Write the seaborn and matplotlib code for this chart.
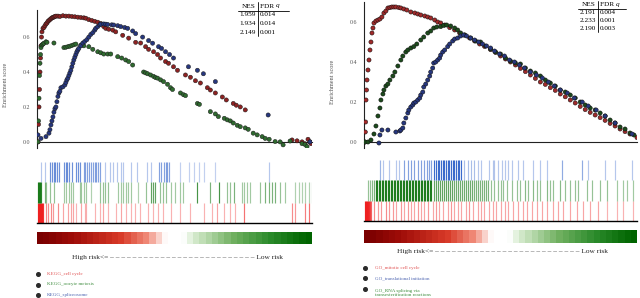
import numpy as np
import pandas as pd
import matplotlib
matplotlib.use("Agg")
import matplotlib.pyplot as plt
import seaborn as sns
from matplotlib.colors import LinearSegmentedColormap, to_rgba
from matplotlib.lines import Line2D

sns.set_style("white")
plt.rcParams['font.family'] = ['Liberation Serif', 'DejaVu Serif']

# ---------------- data: left panel (KEGG) ----------------
left_sets = ["KEGG_cell cycle", "KEGG_oocyte meiosis", "KEGG_spliceosome"]
left_nes = ["1.959", "1.934", "2.149"]
left_fdr = ["0.014", "0.014", "0.001"]

kegg_cc_rank = [0, 0.5, 1, 1.5, 2, 2.5, 3, 3.5, 4, 5, 6, 7, 8, 9, 10, 11, 12, 13, 14, 15, 16, 17, 18, 20, 22, 25, 28, 31, 34, 37,
                40, 43, 46, 48, 51, 54, 57, 60, 63, 66, 68, 71, 75, 78, 85, 91, 98, 103, 108, 111, 116, 120, 123, 128, 131,
                136, 140, 148, 153, 158, 163, 170, 173, 178, 185, 189, 196, 199, 203, 208, 255, 260, 265, 268, 271, 273, 274]
kegg_cc_es = [0.0, 0.1, 0.2, 0.3, 0.4, 0.48, 0.55, 0.6, 0.63, 0.65, 0.655, 0.665, 0.675, 0.68, 0.69, 0.695, 0.70, 0.705, 0.71,
              0.712, 0.715, 0.718, 0.72, 0.72, 0.718, 0.722, 0.72, 0.72, 0.718, 0.716, 0.714, 0.712, 0.71, 0.708, 0.70, 0.695,
              0.69, 0.685, 0.678, 0.66, 0.65, 0.645, 0.64, 0.63, 0.61, 0.594, 0.57, 0.566, 0.545, 0.53, 0.516, 0.50, 0.48,
              0.46, 0.45, 0.43, 0.41, 0.383, 0.37, 0.35, 0.337, 0.31, 0.297, 0.28, 0.257, 0.24, 0.22, 0.21, 0.20, 0.183,
              0.011, 0.006, 0.0, -0.011, 0.015, 0.0, -0.01]

kegg_om_rank = [0, 0.5, 1, 1.5, 2, 2.5, 3, 4, 5, 6, 8, 9, 16, 26, 28, 30, 32, 34, 36, 38, 43, 46, 51, 55, 60, 63, 66, 70, 73,
                80, 84, 88, 91, 95, 106, 108, 110, 113, 116, 118, 120, 123, 126, 130, 133, 135, 143, 146, 148, 160, 162,
                173, 178, 181, 187, 190, 193, 196, 200, 203, 208, 211, 216, 220, 225, 228, 232, 238, 243, 246, 253, 265, 268, 270]
kegg_om_es = [0.0, 0.12, 0.25, 0.38, 0.45, 0.5, 0.54, 0.555, 0.56, 0.565, 0.573, 0.57, 0.566, 0.54, 0.542, 0.545, 0.548,
              0.552, 0.556, 0.56, 0.554, 0.55, 0.545, 0.53, 0.516, 0.51, 0.503, 0.503, 0.503, 0.488, 0.48, 0.469, 0.46,
              0.44, 0.40, 0.395, 0.39, 0.383, 0.375, 0.368, 0.365, 0.355, 0.345, 0.33, 0.31, 0.30, 0.28, 0.27, 0.265,
              0.22, 0.215, 0.173, 0.16, 0.145, 0.135, 0.126, 0.12, 0.108, 0.095, 0.087, 0.08, 0.072, 0.05, 0.04, 0.03,
              0.02, 0.015, 0.002, 0.0, -0.017, 0.005, -0.01, -0.015, -0.027]

kegg_sp_rank = [0, 3, 8, 11, 12, 13, 14, 15, 16, 17, 18, 19, 20, 21, 22, 23, 25, 27, 28, 29, 30, 31, 32, 33, 34, 35, 36, 37,
                38, 39, 40, 41, 43, 45, 47, 49, 51, 53, 55, 57, 58, 60, 62, 63, 66, 68, 70, 74, 76, 80, 83, 87, 90, 95, 98,
                105, 111, 115, 121, 124, 128, 132, 136, 151, 160, 166, 178, 231, 273]
kegg_sp_es = [0.04, 0.02, 0.03, 0.05, 0.07, 0.097, 0.12, 0.143, 0.17, 0.19, 0.20, 0.23, 0.26, 0.28, 0.29, 0.31, 0.315, 0.326,
              0.34, 0.355, 0.365, 0.38, 0.395, 0.41, 0.43, 0.45, 0.469, 0.485, 0.50, 0.515, 0.526, 0.535, 0.55, 0.566,
              0.575, 0.585, 0.60, 0.615, 0.625, 0.64, 0.65, 0.66, 0.67, 0.674, 0.675, 0.674, 0.672, 0.67, 0.669, 0.665,
              0.66, 0.655, 0.65, 0.635, 0.62, 0.60, 0.58, 0.565, 0.545, 0.535, 0.516, 0.50, 0.48, 0.43, 0.41, 0.39, 0.345,
              0.154, 0.0]

# hit positions (rank) and intensity per gene set, left
left_blue_hits = [3, 7, 12, 14, 16, 17, 19, 21, 26, 28, 29, 31, 34, 38, 40, 42, 46, 47, 49, 51, 53, 55, 57, 58, 60, 62, 67,
                  72, 75, 79, 83, 85, 93, 99, 109, 113, 121, 123, 126, 128, 129, 131, 143, 152, 157, 162, 167, 178, 232]
left_blue_int = [0.3, 0.3, 0.6, 0.6, 0.6, 0.6, 0.6, 0.6, 0.6, 0.6, 0.6, 0.6, 0.6, 0.6, 0.6, 0.6, 0.5, 0.5, 0.5, 0.5, 0.5,
                 0.5, 0.5, 0.5, 0.5, 0.5, 0.3, 0.3, 0.3, 0.3, 0.3, 0.3, 0.3, 0.3, 0.3, 0.3, 0.5, 0.5, 0.5, 0.5, 0.5, 0.5,
                 0.25, 0.25, 0.25, 0.25, 0.25, 0.25, 0.3]
left_green_hits = [0, 1, 2, 3, 7, 8, 12, 16, 26, 28, 31, 33, 35, 42, 43, 46, 48, 53, 62, 65, 67, 70, 80, 83, 85, 88, 90, 93,
                   100, 108, 113, 115, 117, 122, 125, 128, 133, 137, 143, 146, 160, 173, 182, 190, 193, 197, 205, 207, 210,
                   213, 223, 228, 232, 235, 238, 243, 248, 258, 262, 265, 268, 272, 275]
left_green_int = [0.95, 0.95, 0.95, 0.8, 0.5, 0.4, 0.4, 0.4, 0.35, 0.35, 0.35, 0.35, 0.35, 0.35, 0.35, 0.35, 0.35, 0.3, 0.4,
                  0.4, 0.4, 0.4, 0.35, 0.35, 0.35, 0.35, 0.35, 0.35, 0.3, 0.4, 0.6, 0.6, 0.6, 0.4, 0.4, 0.4, 0.35, 0.35, 0.35,
                  0.35, 0.7, 0.5, 0.7, 0.4, 0.4, 0.5, 0.35, 0.35, 0.35, 0.35, 0.4, 0.5, 0.5, 0.5, 0.5, 0.4, 0.35, 0.3, 0.3,
                  0.3, 0.3, 0.3, 0.3]
left_red_hits = [0, 1, 2, 3, 4, 5, 8, 10, 13, 15, 20, 25, 30, 33, 35, 38, 43, 47, 48, 57, 62, 65, 70, 78, 83, 88, 93, 97, 102,
                 110, 115, 120, 125, 133, 143, 153, 167, 175, 180, 187, 193, 198, 207, 255, 258, 268, 272]
left_red_int = [1.0, 1.0, 1.0, 1.0, 0.9, 0.8, 0.45, 0.45, 0.45, 0.4, 0.45, 0.35, 0.35, 0.35, 0.35, 0.3, 0.35, 0.3, 0.3, 0.3,
                0.3, 0.35, 0.3, 0.3, 0.35, 0.3, 0.3, 0.3, 0.3, 0.3, 0.3, 0.3, 0.3, 0.3, 0.3, 0.3, 0.3, 0.3, 0.35, 0.3, 0.3,
                0.3, 0.55, 0.45, 0.4, 0.5, 0.55]

# ---------------- data: right panel (GO) ----------------
right_sets = ["GO_mitotic cell cycle", "GO_translational initiation", "GO_RNA splicing via\ntransesterification reactions"]
right_nes = ["2.191", "2.233", "2.190"]
right_fdr = ["0.004", "0.001", "0.003"]

go_mcc_rank = [0, 0.3, 0.6, 1, 1.5, 2, 3, 4, 5, 6, 7, 8, 9, 11, 13, 15, 17, 19, 21, 23, 25, 27, 29, 31, 34, 36, 39, 42, 46,
               50, 53, 56, 60, 63, 66, 70, 73, 76, 80, 85, 90, 95, 100, 105, 110, 115, 120, 126, 131, 136, 141, 146, 151,
               156, 161, 166, 171, 176, 181, 186, 191, 196, 201, 206, 211, 216, 221, 226, 231, 236, 241, 246, 251, 256,
               261, 266, 273]
go_mcc_es = [0.0, 0.05, 0.10, 0.21, 0.26, 0.31, 0.36, 0.41, 0.46, 0.50, 0.545, 0.57, 0.595, 0.605, 0.61, 0.615, 0.625, 0.645,
             0.655, 0.67, 0.672, 0.675, 0.675, 0.675, 0.672, 0.67, 0.665, 0.66, 0.65, 0.645, 0.64, 0.635, 0.63, 0.625,
             0.62, 0.61, 0.60, 0.595, 0.585, 0.572, 0.56, 0.545, 0.535, 0.52, 0.505, 0.49, 0.478, 0.462, 0.448, 0.43,
             0.415, 0.40, 0.385, 0.368, 0.352, 0.335, 0.318, 0.30, 0.288, 0.272, 0.258, 0.24, 0.226, 0.21, 0.195, 0.178,
             0.162, 0.148, 0.135, 0.122, 0.108, 0.093, 0.08, 0.065, 0.052, 0.04, 0.022]

go_ti_rank = [14, 15, 17, 23, 31, 35, 36, 38, 39, 41, 43, 44, 46, 48, 49, 51, 53, 55, 56, 58, 59, 61, 63, 65, 66, 68, 69, 71,
              73, 75, 76, 78, 80, 83, 85, 88, 90, 93, 96, 99, 102, 106, 110, 114, 118, 122, 126, 130, 135, 140, 145, 150,
              155, 160, 166, 172, 178, 184, 190, 196, 203, 210, 218, 224, 232, 241, 251, 268]
go_ti_es = [-0.005, 0.035, 0.06, 0.06, 0.05, 0.055, 0.06, 0.07, 0.095, 0.12, 0.145, 0.16, 0.175, 0.185, 0.195, 0.20, 0.21,
            0.22, 0.235, 0.25, 0.275, 0.29, 0.31, 0.33, 0.35, 0.37, 0.395, 0.40, 0.41, 0.42, 0.435, 0.45, 0.46, 0.477,
            0.49, 0.505, 0.515, 0.52, 0.53, 0.535, 0.53, 0.52, 0.51, 0.50, 0.49, 0.48, 0.47, 0.455, 0.44, 0.43, 0.41,
            0.40, 0.385, 0.37, 0.35, 0.335, 0.32, 0.30, 0.28, 0.26, 0.245, 0.22, 0.20, 0.18, 0.16, 0.13, 0.095, 0.04]

go_rs_rank = [0, 3, 6, 9, 11, 13, 15, 16, 18, 19, 21, 23, 25, 28, 30, 33, 36, 38, 41, 43, 46, 49, 52, 56, 59, 63, 66, 69,
              72, 76, 79, 82, 86, 90, 93, 96, 100, 106, 111, 116, 121, 126, 131, 136, 141, 146, 151, 156, 161, 166, 171,
              176, 181, 186, 191, 196, 201, 206, 211, 216, 221, 226, 231, 236, 241, 246, 251, 256, 261, 266, 270]
go_rs_es = [0.0, 0.0, 0.01, 0.04, 0.08, 0.13, 0.17, 0.21, 0.24, 0.26, 0.28, 0.29, 0.31, 0.33, 0.35, 0.38, 0.41, 0.43, 0.45,
            0.46, 0.47, 0.477, 0.49, 0.51, 0.525, 0.545, 0.555, 0.57, 0.575, 0.577, 0.583, 0.585, 0.58, 0.57, 0.56,
            0.545, 0.535, 0.52, 0.505, 0.50, 0.48, 0.465, 0.45, 0.44, 0.42, 0.405, 0.395, 0.39, 0.37, 0.355, 0.345,
            0.33, 0.31, 0.295, 0.28, 0.26, 0.25, 0.235, 0.22, 0.20, 0.185, 0.17, 0.16, 0.145, 0.13, 0.11, 0.095, 0.075,
            0.065, 0.045, 0.035]

right_blue_hits = [15, 18, 24, 31, 34, 39, 43, 46, 49, 53, 56, 59, 62, 64, 66, 69, 71, 73, 74, 76, 78, 79, 81, 83, 84, 86,
                   88, 89, 91, 93, 94, 96, 99, 103, 106, 109, 113, 116, 124, 128, 129, 133, 138, 141, 144, 148, 154, 159,
                   169, 176, 183, 198, 218, 224, 241, 251, 268]
right_blue_int = [0.4, 0.3, 0.3, 0.3, 0.3, 0.5, 0.5, 0.5, 0.5, 0.5, 0.5, 0.5, 0.5, 0.5, 0.5, 0.8, 0.8, 0.8, 0.8, 0.8, 0.8,
                  0.8, 0.8, 0.8, 0.8, 0.8, 0.8, 0.8, 0.8, 0.8, 0.8, 0.8, 0.35, 0.35, 0.35, 0.35, 0.3, 0.3, 0.3, 0.3, 0.3,
                  0.3, 0.3, 0.3, 0.3, 0.3, 0.3, 0.3, 0.3, 0.3, 0.3, 0.45, 0.45, 0.3, 0.3, 0.3, 0.3]
right_green_hits = [3, 5, 7, 9, 11, 12, 14, 15, 17, 18, 20, 21, 23, 24, 26, 27, 29, 30, 32, 33, 35, 36, 38, 39, 41, 42, 44,
                    45, 47, 48, 50, 51, 53, 54, 56, 57, 59, 60, 62, 63, 65, 66, 69, 71, 73, 75, 77, 79, 81, 83, 85, 87,
                    89, 91, 93, 95, 97, 99, 101, 103, 105, 107, 109, 111, 113, 115, 117, 119, 121, 123, 126, 129, 133,
                    136, 139, 143, 148, 153, 156, 161, 164, 169, 173, 176, 183, 186, 189, 196, 201, 206, 211, 214, 223,
                    228, 236, 243, 253, 259, 263, 269]
right_green_int = [0.4, 0.4, 0.45, 0.5, 0.85, 0.85, 0.85, 0.85, 0.85, 0.85, 0.85, 0.85, 0.85, 0.85, 0.85, 0.85, 0.85, 0.85,
                   0.85, 0.85, 0.85, 0.85, 0.85, 0.85, 0.85, 0.85, 0.85, 0.85, 0.85, 0.85, 0.85, 0.85, 0.85, 0.85, 0.85,
                   0.85, 0.85, 0.85, 0.85, 0.85, 0.85, 0.85, 0.6, 0.6, 0.6, 0.6, 0.6, 0.6, 0.6, 0.6, 0.6, 0.6, 0.55, 0.55,
                   0.55, 0.55, 0.55, 0.55, 0.55, 0.55, 0.55, 0.55, 0.5, 0.5, 0.5, 0.5, 0.5, 0.5, 0.5, 0.5, 0.4, 0.4, 0.4,
                   0.4, 0.4, 0.4, 0.4, 0.4, 0.4, 0.45, 0.4, 0.45, 0.4, 0.4, 0.45, 0.4, 0.4, 0.45, 0.4, 0.4, 0.4, 0.4, 0.4,
                   0.4, 0.4, 0.4, 0.35, 0.35, 0.35, 0.35]
right_red_hits = [0, 1, 2, 3, 4, 5, 6, 9, 13, 16, 21, 24, 28, 31, 36, 39, 43, 46, 49, 53, 56, 59, 63, 68, 71, 74, 78, 83, 86,
                  89, 93, 96, 101, 104, 108, 113, 116, 119, 124, 128, 131, 136, 141, 144, 149, 154, 159, 163, 168, 173,
                  178, 183, 189, 194, 199, 206, 213, 219, 226, 234, 243, 253, 259, 269]
right_red_int = [1.0, 1.0, 0.9, 0.85, 0.8, 0.7, 0.6, 0.45, 0.4, 0.4, 0.45, 0.4, 0.4, 0.35, 0.4, 0.35, 0.4, 0.35, 0.35, 0.4,
                 0.35, 0.35, 0.4, 0.35, 0.4, 0.35, 0.35, 0.35, 0.4, 0.35, 0.35, 0.35, 0.35, 0.4, 0.35, 0.35, 0.35, 0.35,
                 0.35, 0.35, 0.35, 0.35, 0.35, 0.35, 0.35, 0.35, 0.35, 0.35, 0.35, 0.35, 0.35, 0.35, 0.35, 0.35, 0.35,
                 0.35, 0.35, 0.35, 0.35, 0.35, 0.3, 0.3, 0.3, 0.3]

# ---------------- figure ----------------
W, H = 640, 298
fig = plt.figure(figsize=(6.4, 2.98), dpi=100)


def fbox(x0, y0, x1, y1):
    return [x0 / W, 1 - y1 / H, (x1 - x0) / W, (y1 - y0) / H]


TICK_COL = "#555555"
FS_TICK = 4.3


def curve_panel(box, ylim, xmax, ranks, scores, names, palette, edge):
    ax = fig.add_axes(box)
    frames = []
    for r, s, n in zip(ranks, scores, names):
        frames.append(pd.DataFrame({"rank": r, "es": s, "set": n}))
    df = pd.concat(frames, ignore_index=True)
    sns.scatterplot(data=df, x="rank", y="es", hue="set", palette=palette, s=9,
                    edgecolor=edge, linewidth=0.35, legend=False, ax=ax, zorder=3)
    ax.set_xlim(-1, xmax)
    ax.set_ylim(*ylim)
    ax.spines['top'].set_visible(False)
    ax.spines['right'].set_visible(False)
    ax.spines['bottom'].set_position(('data', 0))
    for sp in ('left', 'bottom'):
        ax.spines[sp].set_color("#222222")
        ax.spines[sp].set_linewidth(0.8)
    ax.set_xticks([])
    ax.set_yticks([0.0, 0.2, 0.4, 0.6])
    ax.set_yticklabels(["0.0", "0.2", "0.4", "0.6"])
    ax.tick_params(axis='y', length=0, pad=5, labelsize=FS_TICK, labelcolor=TICK_COL)
    ax.set_xlabel("")
    ax.set_ylabel("")
    ax.patch.set_alpha(0)
    return ax


def hit_panel(box, xmax, rows):
    ax = fig.add_axes(box)
    for i, (hits, ints, base) in enumerate(rows):
        cols = [to_rgba(base, min(1.0, a * 1.15)) for a in ints]
        ax.vlines(hits, i, i + 1, colors=cols, linewidth=0.85)
    ax.set_xlim(-1, xmax)
    ax.set_ylim(0, 3)
    for sp in ('top', 'left', 'right'):
        ax.spines[sp].set_visible(False)
    ax.spines['bottom'].set_color('black')
    ax.spines['bottom'].set_linewidth(1.0)
    ax.set_xticks([])
    ax.set_yticks([])
    ax.patch.set_alpha(0)
    return ax


grad_cmap = LinearSegmentedColormap.from_list(
    "rg", [(0.0, "#7a0000"), (0.12, "#9e0c08"), (0.30, "#d83a28"), (0.40, "#f08a78"),
           (0.47, "#ffffff"), (0.53, "#ffffff"), (0.57, "#d8ecd0"), (0.72, "#70b060"),
           (0.86, "#2a8a2a"), (1.0, "#006400")])


def grad_panel(box):
    ax = fig.add_axes(box)
    ax.imshow(np.linspace(0, 1, 44)[None, :], aspect='auto', cmap=grad_cmap, interpolation='nearest')
    ax.set_axis_off()
    return ax


# left panel
curve_panel(fbox(37, 10, 312, 148), (-0.035, 0.755), 275,
            [kegg_cc_rank, kegg_om_rank, kegg_sp_rank], [kegg_cc_es, kegg_om_es, kegg_sp_es],
            left_sets, {left_sets[0]: "#8e2222", left_sets[1]: "#2f6a2f", left_sets[2]: "#27377e"}, "#1a1a1a")
fig.text(6 / W, 1 - 85 / H, "Enrichment score", rotation=90, ha='center', va='center', fontsize=4.5, color=TICK_COL)

# right panel
curve_panel(fbox(364, 2, 637, 148), (-0.03, 0.70), 273,
            [go_mcc_rank, go_rs_rank, go_ti_rank], [go_mcc_es, go_rs_es, go_ti_es],
            [right_sets[0], right_sets[2], right_sets[1]],
            {right_sets[0]: "#a02a2a", right_sets[2]: "#1c4a1c", right_sets[1]: "#27377e"}, "#111111")
fig.text(333 / W, 1 - 82 / H, "Enrichment score", rotation=90, ha='center', va='center', fontsize=4.5, color=TICK_COL)

# hit strips
hit_panel(fbox(37, 162, 312, 223), 275,
          [(left_red_hits, left_red_int, "#ee2020"),
           (left_green_hits, left_green_int, "#1a7a1a"),
           (left_blue_hits, left_blue_int, "#2a5ec8")])
hit_panel(fbox(364, 160, 637, 221), 273,
          [(right_red_hits, right_red_int, "#ee2020"),
           (right_green_hits, right_green_int, "#1a7a1a"),
           (right_blue_hits, right_blue_int, "#2a5ec8")])

# gradient bars
grad_panel(fbox(37, 232, 312, 244))
grad_panel(fbox(364, 230, 637, 243))

# risk direction text
dash = " –" * 26
fig.text(72 / W, 1 - 257 / H, "High risk<=" + dash + " Low risk", ha='left', va='center', fontsize=5.3, color="#222222")
fig.text(397 / W, 1 - 251 / H, "High risk<=" + dash + " Low risk", ha='left', va='center', fontsize=5.3, color="#222222")


# NES / FDR tables
def nes_table(xv, ytop, rows_y, nes, fdr, x0, x1):
    fig.text((xv - 2) / W, 1 - ytop / H, "NES", ha='right', va='center', fontsize=5.2, color='black')
    fig.text((xv + 2) / W, 1 - ytop / H, "FDR ", ha='left', va='center', fontsize=5.2, color='black')
    fig.text((xv + 18) / W, 1 - ytop / H, "q", ha='left', va='center', fontsize=5.2, color='black', style='italic')
    fig.add_artist(Line2D([x0 / W, x1 / W], [1 - (ytop + 4.5) / H] * 2, color='black', lw=0.6,
                          transform=fig.transFigure))
    fig.add_artist(Line2D([xv / W, xv / W], [1 - (ytop - 4) / H, 1 - (rows_y[-1] + 4) / H], color='black',
                          lw=0.6, transform=fig.transFigure))
    for yy, a, b in zip(rows_y, nes, fdr):
        fig.text((xv - 2) / W, 1 - yy / H, a, ha='right', va='center', fontsize=5.2, color='black')
        fig.text((xv + 2) / W, 1 - yy / H, b, ha='left', va='center', fontsize=5.2, color='black')


nes_table(258, 6, [15, 23.5, 32], left_nes, left_fdr, 238, 289)
nes_table(598, 4.5, [13, 20.5, 28], right_nes, right_fdr, 578, 626)


# legends
def legend_dot(x, y):
    fig.add_artist(Line2D([x / W], [1 - y / H], marker='o', markersize=2.6, color='#2a2a2a',
                          linestyle='none', transform=fig.transFigure))


for y, lab, c in zip([274, 284.5, 295], left_sets, ["#e05050", "#3a8a3a", "#4a62b0"]):
    legend_dot(38, y)
    fig.text(47 / W, 1 - y / H, lab, ha='left', va='center', fontsize=3.6, color=c)

legend_dot(365, 268)
legend_dot(365, 278)
legend_dot(365, 289)
fig.text(375 / W, 1 - 268 / H, right_sets[0], ha='left', va='center', fontsize=3.6, color="#e05050")
fig.text(375 / W, 1 - 278 / H, right_sets[1], ha='left', va='center', fontsize=3.6, color="#4a62b0")
fig.text(375 / W, 1 - 293 / H, right_sets[2], ha='left', va='center', fontsize=3.6, color="#3a8a3a",
         linespacing=1.3)

fig.savefig("out.png", dpi=100)
